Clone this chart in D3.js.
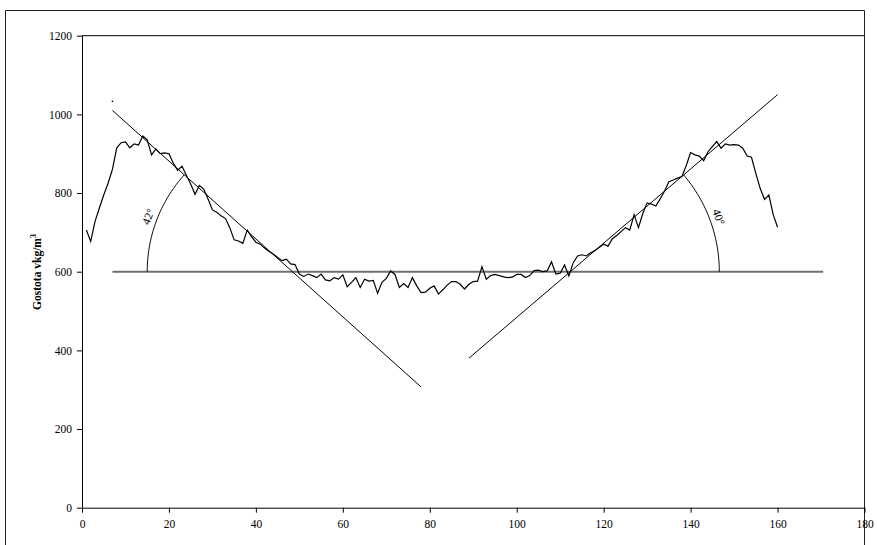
<!DOCTYPE html>
<html>
<head>
<meta charset="utf-8">
<script src="https://cdn.jsdelivr.net/npm/d3@7"></script>
<style>
  html, body { margin: 0; padding: 0; background: #fff; }
  svg { display: block; }
  .tick text { font-family: "Liberation Serif", "Times New Roman", serif; font-size: 11.5px; fill: #000; }
  .domain, .tick line { stroke: #000; }
</style>
</head>
<body>
<svg id="chart" width="877" height="545"></svg>
<script>
// Sampling positions along the profile and the measured density at each one
const positions = d3.range(1, 161);
const density = [
  706, 677, 728, 762, 795, 825, 860, 915, 928, 930,
  915, 925, 922, 945, 935, 897, 912, 900, 902, 900,
  876, 858, 868, 845, 823, 797, 819, 810, 785, 757,
  751, 742, 735, 712, 681, 678, 672, 706, 689, 675,
  670, 660, 652, 645, 636, 628, 632, 620, 618, 594,
  588, 594, 590, 585, 594, 579, 577, 585, 581, 592,
  562, 573, 585, 560, 581, 576, 578, 545, 573, 583,
  602, 593, 560, 570, 560, 585, 564, 547, 548, 558,
  564, 543, 554, 566, 575, 575, 568, 556, 568, 575,
  576, 613, 581, 590, 593, 590, 587, 585, 586, 593,
  593, 585, 590, 603, 604, 600, 602, 625, 594, 596,
  617, 589, 623, 640, 643, 640, 648, 654, 662, 670,
  665, 684, 692, 702, 712, 706, 745, 712, 748, 775,
  772, 767, 785, 805, 829, 833, 838, 842, 870, 903,
  897, 894, 882, 905, 918, 931, 914, 925, 922, 923,
  922, 914, 894, 891, 850, 812, 784, 795, 745, 713
];

// Reference level and the two fitted slope lines
const baseLevel = 600;
const baseExtent = [7, 170.5];
const leftSlope = [[7, 1010], [78, 307]];
const rightSlope = [[89, 380], [160, 1050]];
// Where the angle arcs start on the reference level
const leftArcStart = 15;
const rightArcStart = 146.6;
const angleLabels = ["42°", "40°"];
// Isolated point near the start of the left slope
const strayPoint = [7, 1033];

const xTicks = [0, 20, 40, 60, 80, 100, 120, 140, 160, 180];
const yTicks = [0, 200, 400, 600, 800, 1000, 1200];

const svg = d3.select("#chart");
const plotLeft = 82, plotRight = 864.5, plotTop = 35.7, plotBottom = 507.7;

const x = d3.scaleLinear().domain([0, 180]).range([plotLeft, plotRight]);
const y = d3.scaleLinear().domain([0, 1200]).range([plotBottom, plotTop]);

// Outer frame; its right side coincides with the plot's right edge
svg.append("path")
  .attr("d", `M5.5,560 V10.5 H${plotRight} V560`)
  .attr("fill", "none").attr("stroke", "#222").attr("stroke-width", 1);

// Plot area outline (top edge)
svg.append("path")
  .attr("d", `M${plotLeft},${plotTop} H${plotRight}`)
  .attr("fill", "none").attr("stroke", "#000").attr("stroke-width", 1);

// Axes
svg.append("g")
  .attr("transform", `translate(${plotLeft},0)`)
  .call(d3.axisLeft(y).tickValues(yTicks).tickSize(5).tickSizeOuter(0).tickPadding(5).tickFormat(d3.format("d")));

svg.append("g")
  .attr("transform", `translate(0,${plotBottom})`)
  .call(d3.axisBottom(x).tickValues(xTicks).tickSize(5).tickSizeOuter(0).tickPadding(7).tickFormat(d3.format("d")));

// Y axis title
const yTitle = svg.append("text")
  .attr("transform", `translate(41,272) rotate(-90)`)
  .attr("text-anchor", "middle")
  .attr("font-family", "Liberation Serif, Times New Roman, serif")
  .attr("font-size", 11.5)
  .attr("font-weight", "bold");
yTitle.append("tspan").text("Gostota vkg/m");
yTitle.append("tspan").attr("font-size", 8).attr("dy", -5).text("3");

// Reference level line
svg.append("line")
  .attr("x1", x(baseExtent[0])).attr("x2", x(baseExtent[1]))
  .attr("y1", y(baseLevel)).attr("y2", y(baseLevel))
  .attr("stroke", "#6f6f6f").attr("stroke-width", 2);

// Density profile
const line = d3.line().x(d => x(d[0])).y(d => y(d[1]));
svg.append("path")
  .datum(positions.map((p, i) => [p, density[i]]))
  .attr("d", line)
  .attr("fill", "none").attr("stroke", "#000").attr("stroke-width", 1.2);

// Slope lines
[leftSlope, rightSlope].forEach(seg => {
  svg.append("path").attr("d", line(seg))
    .attr("fill", "none").attr("stroke", "#000").attr("stroke-width", 1);
});

svg.append("circle")
  .attr("cx", x(strayPoint[0])).attr("cy", y(strayPoint[1]))
  .attr("r", 0.8).attr("fill", "#000");

// Intersection of a slope line with the reference level (data units)
function crossing(seg) {
  const [[x1, y1], [x2, y2]] = seg;
  return x1 + (baseLevel - y1) * (x2 - x1) / (y2 - y1);
}

// Angle arcs, drawn in screen space around the crossing points
function drawArc(seg, startX, label, side) {
  const cx = x(crossing(seg)), cy = y(baseLevel);
  const r = Math.abs(x(startX) - cx);
  const [[x1, y1], [x2, y2]] = seg;
  const ang = Math.atan(Math.abs((y(y2) - y(y1)) / (x(x2) - x(x1))));
  const pts = d3.range(0, 61).map(i => {
    const t = ang * i / 60;
    return [cx + side * r * Math.cos(t), cy - r * Math.sin(t)];
  });
  svg.append("path").attr("d", d3.line()(pts))
    .attr("fill", "none").attr("stroke", "#000").attr("stroke-width", 1);

  const t = ang * 0.5;
  const lr = r + 2;
  const lx = cx + side * lr * Math.cos(t), ly = cy - lr * Math.sin(t);
  const rot = side < 0 ? -(90 - t * 180 / Math.PI) : (90 - t * 180 / Math.PI);
  svg.append("text")
    .attr("transform", `translate(${lx},${ly}) rotate(${rot})`)
    .attr("text-anchor", "middle")
    .attr("dy", "-0.28em")
    .attr("font-family", "Liberation Serif, Times New Roman, serif")
    .attr("font-size", 11.5)
    .text(label);
}
drawArc(leftSlope, leftArcStart, angleLabels[0], -1);
drawArc(rightSlope, rightArcStart, angleLabels[1], 1);
</script>
</body>
</html>
